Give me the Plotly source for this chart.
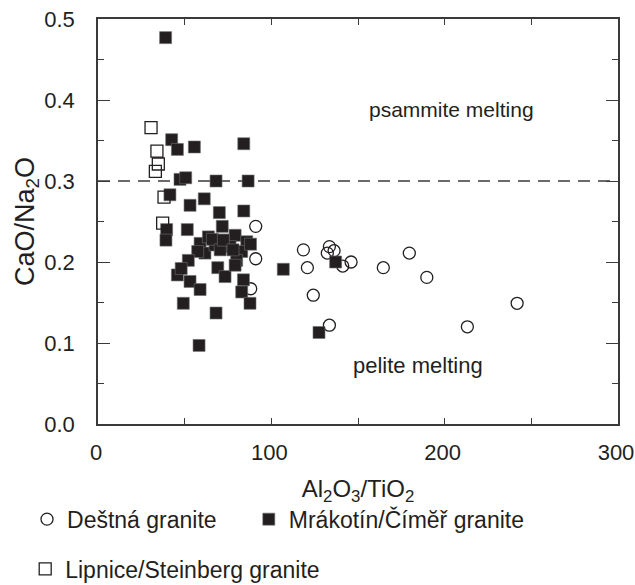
import plotly.graph_objects as go

# Deštná granite (open circles)
destna_x = [91.0, 91.0, 88.1, 118.5, 120.8, 124.2, 133.5, 132.3, 136.2, 141.2,
            146.0, 164.6, 179.6, 189.7, 133.5, 213.1, 241.8]
destna_y = [0.244, 0.204, 0.167, 0.215, 0.193, 0.159, 0.219, 0.211, 0.214, 0.195,
            0.200, 0.193, 0.211, 0.181, 0.122, 0.120, 0.149]

# Lipnice/Steinberg granite (open squares)
lipnice_x = [30.6, 34.0, 34.8, 33.1, 38.1, 37.3]
lipnice_y = [0.366, 0.337, 0.321, 0.312, 0.280, 0.248]

# Mrákotín/Čímĕř granite (filled squares)
mrakotin_x = [39.0, 42.5, 45.8, 55.6, 84.1, 47.3, 50.6, 68.1, 86.6, 41.5,
              61.3, 53.1, 70.0, 84.1, 39.6, 39.2, 51.5, 71.7,
              58.9, 63.7, 61.7, 67.5, 73.3, 79.1, 85.8, 82.9, 80.0, 76.2,
              66.0, 70.5, 88.0, 57.5, 72.3, 77.9,
              52.1, 45.8, 48.0, 53.1, 58.9, 69.1, 73.3, 79.1, 83.9, 82.9,
              49.2, 68.1, 87.7, 58.3, 106.9, 137.1, 127.5]
mrakotin_y = [0.477, 0.351, 0.339, 0.342, 0.346, 0.302, 0.304, 0.300, 0.300, 0.283,
              0.278, 0.270, 0.261, 0.263, 0.240, 0.227, 0.240, 0.244,
              0.223, 0.231, 0.211, 0.221, 0.227, 0.233, 0.225, 0.213, 0.202, 0.219,
              0.228, 0.215, 0.222, 0.213, 0.227, 0.215,
              0.202, 0.184, 0.192, 0.176, 0.166, 0.193, 0.182, 0.196, 0.178, 0.163,
              0.149, 0.137, 0.149, 0.097, 0.191, 0.200, 0.113]

# Boundary between the two melting fields
boundary_y = 0.3

FONT = "Liberation Sans, Arial, sans-serif"
INK = "#231f20"
AXIS = "#3a3a3a"

fig = go.Figure()

fig.add_trace(go.Scatter(
    x=destna_x, y=destna_y, mode="markers", name="Deštná granite",
    marker=dict(symbol="circle-open", size=12, color=INK, line=dict(width=1.3)),
    legend="legend", showlegend=True,
))
fig.add_trace(go.Scatter(
    x=mrakotin_x, y=mrakotin_y, mode="markers", name="Mrákotín/Čímĕř granite",
    marker=dict(symbol="square", size=12, color=INK,
                line=dict(width=0.6, color="#6d6e70")),
    legend="legend2", showlegend=True,
))
fig.add_trace(go.Scatter(
    x=lipnice_x, y=lipnice_y, mode="markers", name="Lipnice/Steinberg granite",
    marker=dict(symbol="square-open", size=12, color=INK, line=dict(width=1.3)),
    legend="legend3", showlegend=True,
))

fig.add_shape(type="line", xref="x", yref="y", x0=0, x1=300,
              y0=boundary_y, y1=boundary_y,
              line=dict(color=AXIS, width=1.5, dash="12px,8px"), layer="below")

fig.add_annotation(x=203.7, y=0.388, text="psammite melting", showarrow=False,
                   font=dict(family=FONT, size=21, color=INK))
fig.add_annotation(x=184.9, y=0.072, text="pelite melting", showarrow=False,
                   font=dict(family=FONT, size=22, color=INK))

legend_style = dict(orientation="h", xanchor="left", yanchor="middle",
                    font=dict(family=FONT, size=23, color=INK), itemwidth=30,
                    bgcolor="rgba(0,0,0,0)", visible=True)

fig.update_layout(
    width=635, height=585,
    margin=dict(l=98, r=17, t=19, b=161, autoexpand=False),
    paper_bgcolor="white", plot_bgcolor="white",
    font=dict(family=FONT, size=22, color=INK),
    showlegend=True,
    legend=dict(x=-0.1365, y=-0.235, **legend_style),
    legend2=dict(x=0.290, y=-0.235, **legend_style),
    legend3=dict(x=-0.140, y=-0.358, **legend_style),
)

fig.update_xaxes(
    range=[0, 300], tickvals=[0, 50, 100, 150, 200, 250, 300],
    ticktext=["0", "", "100", "", "200", "", "300"],
    ticks="inside", ticklen=6, tickwidth=1.2, tickcolor=AXIS,
    showline=True, linecolor=AXIS, linewidth=1.5, mirror="allticks",
    showgrid=False, zeroline=False, ticklabeloverflow="allow",
    ticklabelstandoff=8, ticklabelshift=-2,
    title=dict(text="Al<sub>2</sub>O<sub>3</sub>/TiO<sub>2</sub>",
               font=dict(family=FONT, size=24, color=INK), standoff=16),
    tickfont=dict(family=FONT, size=22, color=INK),
)
fig.update_yaxes(
    range=[0, 0.5], tickvals=[0, 0.1, 0.2, 0.3, 0.4, 0.5],
    ticktext=["0.0", "0.1", "0.2", "0.3", "0.4", "0.5"],
    ticks="inside", ticklen=12, tickwidth=1.2, tickcolor=AXIS,
    minor=dict(tickvals=[0.05, 0.15, 0.25, 0.35, 0.45], ticks="inside",
               ticklen=6, tickwidth=1.2, tickcolor=AXIS),
    showline=True, linecolor=AXIS, linewidth=1.5, mirror="allticks",
    showgrid=False, zeroline=False, ticklabeloverflow="allow",
    ticklabelstandoff=17,
    title=dict(text="CaO/Na<sub>2</sub>O",
               font=dict(family=FONT, size=27, color=INK), standoff=2),
    tickfont=dict(family=FONT, size=22, color=INK),
)

fig.write_html("out.html")
